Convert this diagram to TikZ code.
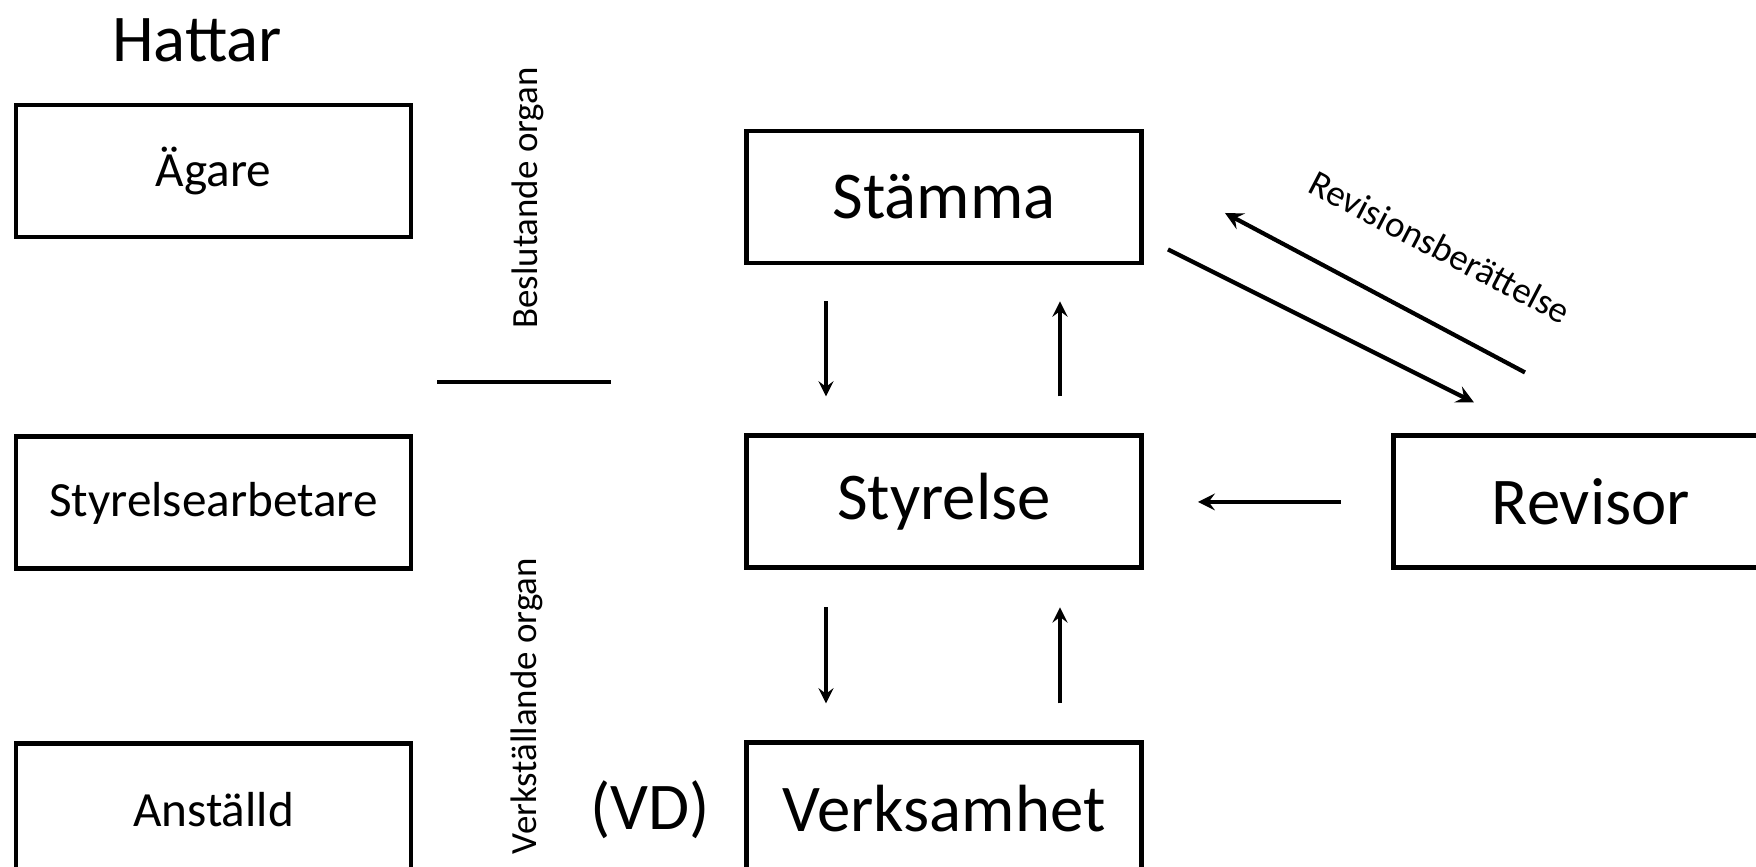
\documentclass[tikz,border=0pt]{standalone}
\usepackage{fontspec}
\setmainfont{Carlito}
\usetikzlibrary{arrows,positioning,calc}

\begin{document}
\begin{tikzpicture}[
  node distance=1.95cm and 2.47cm,
  box/.style={rectangle, draw, line width=1.4pt, minimum width=3.95cm, minimum height=1.32cm, inner sep=0pt, align=center},
  hat/.style={box, font=\fontsize{14}{17}\selectfont},
  organ/.style={box, font=\fontsize{19}{23}\selectfont},
  arrow/.style={->, >=stealth, line width=0.9pt},
  side/.style={font=\fontsize{10.5}{12}\selectfont, rotate=90},
  title/.style={font=\fontsize{19}{23}\selectfont}
]
\clip (0,0) rectangle (17.56,8.66);

% Hats (left column)
\node[title] (hattar) at (1.97, 8.26) {Hattar};
\node[hat] (agare) at (2.135, 6.95) {Ägare};
\node[hat, below=of agare] (styrarb) {Styrelsearbetare};
\node[hat, below=1.7cm of styrarb] (anstalld) {Anställd};

% Separator and side labels
\coordinate (sepL) at (4.37, 4.84);
\coordinate (sepR) at (6.11, 4.84);
\draw[line width=1.2pt] (sepL) -- (sepR);
\node[side] (beslut) at (5.28, 6.68) {Beslutande organ};
\node[side] (verkst) at (5.27, 1.60) {Verkställande organ};

% Organs (middle column)
\node[organ] (stamma) at (9.44, 6.69) {Stämma};
\node[organ, below=1.68cm of stamma] (styrelse) {Styrelse};
\node[organ, below=1.70cm of styrelse] (verksamhet) {Verksamhet};
\node[title] (vd) at (6.5, 0.56) {(VD)};
\node[organ, right=of styrelse] (revisor) {Revisor};

\draw[arrow] ([xshift=-1.18cm, yshift=-0.36cm]stamma.south) -- ([xshift=-1.18cm, yshift=0.37cm]styrelse.north);
\draw[arrow] ([xshift=1.16cm, yshift=0.37cm]styrelse.north) -- ([xshift=1.16cm, yshift=-0.36cm]stamma.south);
\draw[arrow] ([xshift=-1.18cm, yshift=-0.37cm]styrelse.south) -- ([xshift=-1.18cm, yshift=0.37cm]verksamhet.north);
\draw[arrow] ([xshift=1.16cm, yshift=0.37cm]verksamhet.north) -- ([xshift=1.16cm, yshift=-0.37cm]styrelse.south);
\draw[arrow, line width=1.1pt] ([xshift=-0.5cm]revisor.west) -- ([xshift=0.54cm]styrelse.east);

% Revision report
\draw[arrow, line width=1.2pt] ([shift={(0.24,0.16)}]stamma.south east) -- ([shift={(0.83,0.31)}]revisor.north west);
\draw[arrow, line width=1.2pt] ([shift={(1.34,0.61)}]revisor.north west) -- ([shift={(0.81,-0.16)}]stamma.east);
\node[font=\fontsize{10.5}{12}\selectfont, rotate=-27.5] (revber) at (14.40, 6.19) {Revisionsberättelse};

\end{tikzpicture}
\end{document}
